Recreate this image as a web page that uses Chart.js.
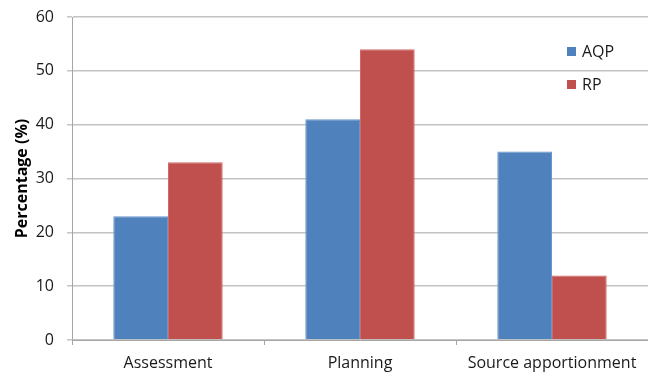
<!DOCTYPE html>
<html lang="en">
<head>
    <meta charset="UTF-8">
    <title>AQP vs RP</title>
    <script src="https://cdn.jsdelivr.net/npm/chart.js"></script>
    <style>
        body {
            margin: 0;
            background: #fff;
        }
        #wrap {
            width: 648px;
            height: 376px;
        }
    </style>
</head>
<body>
    <div id="wrap">
        <canvas id="usageChart"></canvas>
    </div>
    <script>
        const categories = ['Assessment', 'Planning', 'Source apportionment'];
        const aqpValues = [23, 41, 35];
        const rpValues = [33, 54, 12];
        const yTicks = [0, 10, 20, 30, 40, 50, 60];

        const fontFamily = '"Open Sans", "Noto Sans", sans-serif';
        const labelFont = { family: fontFamily, size: 16 };

        // small legend drawn inside the plot, top right
        const sideLegend = {
            id: 'sideLegend',
            afterDraw(chart) {
                const c = chart.ctx;
                const area = chart.chartArea;
                c.save();
                c.font = '16px ' + fontFamily;
                c.textBaseline = 'middle';
                chart.data.datasets.forEach((ds, i) => {
                    const y = area.top + 34 + i * 33;
                    const x = area.right - 81;
                    c.fillStyle = ds.backgroundColor;
                    c.fillRect(x, y - 4, 9, 9);
                    c.fillStyle = '#1a1a1a';
                    c.fillText(ds.label, x + 15, y + 1);
                });
                c.restore();
            }
        };

        new Chart(document.getElementById('usageChart'), {
            type: 'bar',
            data: {
                labels: categories,
                datasets: [{
                    label: 'AQP',
                    data: aqpValues,
                    backgroundColor: '#4F81BD',
                    borderColor: '#6a95cc',
                    borderWidth: 1,
                    categoryPercentage: 0.57,
                    barPercentage: 1.0
                }, {
                    label: 'RP',
                    data: rpValues,
                    backgroundColor: '#C0504D',
                    borderColor: '#d06a67',
                    borderWidth: 1,
                    categoryPercentage: 0.57,
                    barPercentage: 1.0
                }]
            },
            options: {
                responsive: true,
                maintainAspectRatio: false,
                animation: false,
                layout: {
                    padding: { top: 17, right: 0, left: 0, bottom: 0 }
                },
                plugins: {
                    legend: { display: false },
                    tooltip: { enabled: false }
                },
                scales: {
                    x: {
                        offset: true,
                        afterFit(scale) {
                            scale.height = 36;
                        },
                        grid: {
                            offset: true,
                            drawOnChartArea: false,
                            drawTicks: true,
                            tickLength: 5,
                            color: '#a6a6a6'
                        },
                        border: { color: '#a6a6a6' },
                        ticks: {
                            font: labelFont,
                            color: '#1a1a1a',
                            maxRotation: 0,
                            padding: 9
                        }
                    },
                    y: {
                        min: 0,
                        max: 60,
                        afterFit(scale) {
                            scale.width = 72;
                            scale.paddingTop = 0;
                            scale.paddingBottom = 0;
                        },
                        afterBuildTicks(scale) {
                            scale.ticks = yTicks.map(v => ({ value: v }));
                        },
                        grid: {
                            color: '#c4c4c4',
                            lineWidth: 1.5,
                            tickLength: 5
                        },
                        border: { color: '#a6a6a6' },
                        ticks: {
                            font: labelFont,
                            color: '#1a1a1a',
                            padding: 13
                        },
                        title: {
                            display: true,
                            text: 'Percentage (%)',
                            font: { family: fontFamily, size: 16, weight: 'bold' },
                            color: '#000',
                            padding: { top: 13, bottom: 4 }
                        }
                    }
                }
            },
            plugins: [sideLegend]
        });
    </script>
</body>
</html>
